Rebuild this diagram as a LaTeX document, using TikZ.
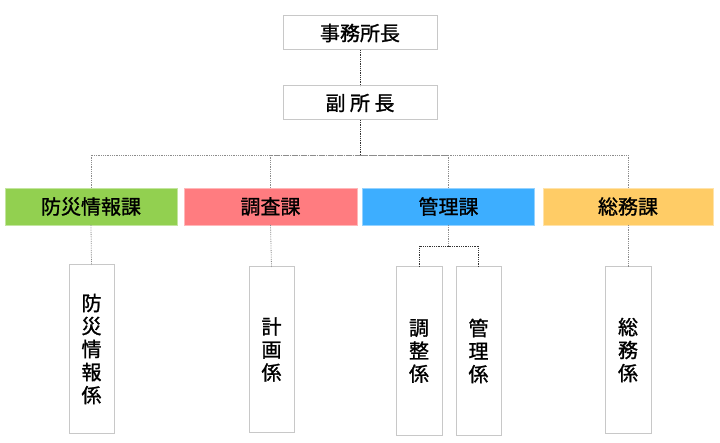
\documentclass[tikz,border=0pt]{standalone}
\usepackage{fontspec}
\newfontfamily\jp[FakeBold=1.2]{Noto Sans CJK JP}
\definecolor{cgreen}{HTML}{92D050}
\definecolor{cred}{HTML}{FF7C80}
\definecolor{cblue}{HTML}{3DAEFF}
\definecolor{corange}{HTML}{FFCC66}
\definecolor{bordergray}{HTML}{C8C8C8}
\definecolor{linegray}{HTML}{8C8C8C}
\begin{document}
\begin{tikzpicture}[x=1pt,y=-1pt,
  every node/.style={font=\jp\fontsize{20}{23}\selectfont, inner sep=0pt, outer sep=0pt},
  topbox/.style={draw=bordergray, line width=1pt, fill=white, minimum width=154pt, minimum height=34pt},
  deptbox/.style={fill=#1, draw=#1!55, line width=0.8pt, minimum height=37pt},
  subbox/.style={draw=bordergray, line width=1pt, fill=white, minimum width=45pt, minimum height=168pt, align=center},
  conn/.style={draw=linegray, densely dotted, line width=0.8pt},
  darkconn/.style={draw=black!80, densely dotted, line width=0.8pt}
]
\useasboundingbox (0,0) rectangle (720,443);
\fill[white] (0,0) rectangle (720,443);

% top
\node[topbox] (ceo) at (360,33) {事務所長};
\node[topbox] (vice) at (360,103) {副 所 長};

% departments
\node[deptbox=cgreen, minimum width=172pt] (d1) at (91,206.5) {防災情報課};
\node[deptbox=cred, minimum width=173pt] (d2) at (270.5,206.5) {調査課};
\node[deptbox=cblue, minimum width=172pt] (d3) at (448.5,206.5) {管理課};
\node[deptbox=corange, minimum width=170pt] (d4) at (628,206.5) {総務課};

% sections
\node[subbox] (s1) at (91.5,349) {防\\災\\情\\報\\係};
\node[subbox, minimum height=165pt] (s2) at (271.5,349.5) {計\\画\\係};
\node[subbox, minimum width=46pt] (s3a) at (419,351) {調\\整\\係};
\node[subbox] (s3b) at (478.5,351) {管\\理\\係};
\node[subbox, minimum width=46pt, minimum height=166pt] (s4) at (628,350) {総\\務\\係};

\coordinate (bus) at (360,155);
\coordinate (sb) at (448.5,246);

% connectors
\draw[darkconn] (ceo.south) -- (vice.north);
\draw[darkconn] (vice.south) -- (bus);
\draw[conn] (d1.north) |- (bus);
\draw[conn] (d2.north) |- (bus);
\draw[conn] (d3.north) |- (bus);
\draw[conn] (d4.north) |- (bus);
\draw[conn] (d1.south) -- (s1.north);
\draw[conn] (d2.south) -- (s2.north);
\draw[conn] (d3.south) -- (sb);
\draw[darkconn] (s3a.north) |- (sb);
\draw[darkconn] (s3b.north) |- (sb);
\draw[conn] (d4.south) -- (s4.north);
\end{tikzpicture}
\end{document}
